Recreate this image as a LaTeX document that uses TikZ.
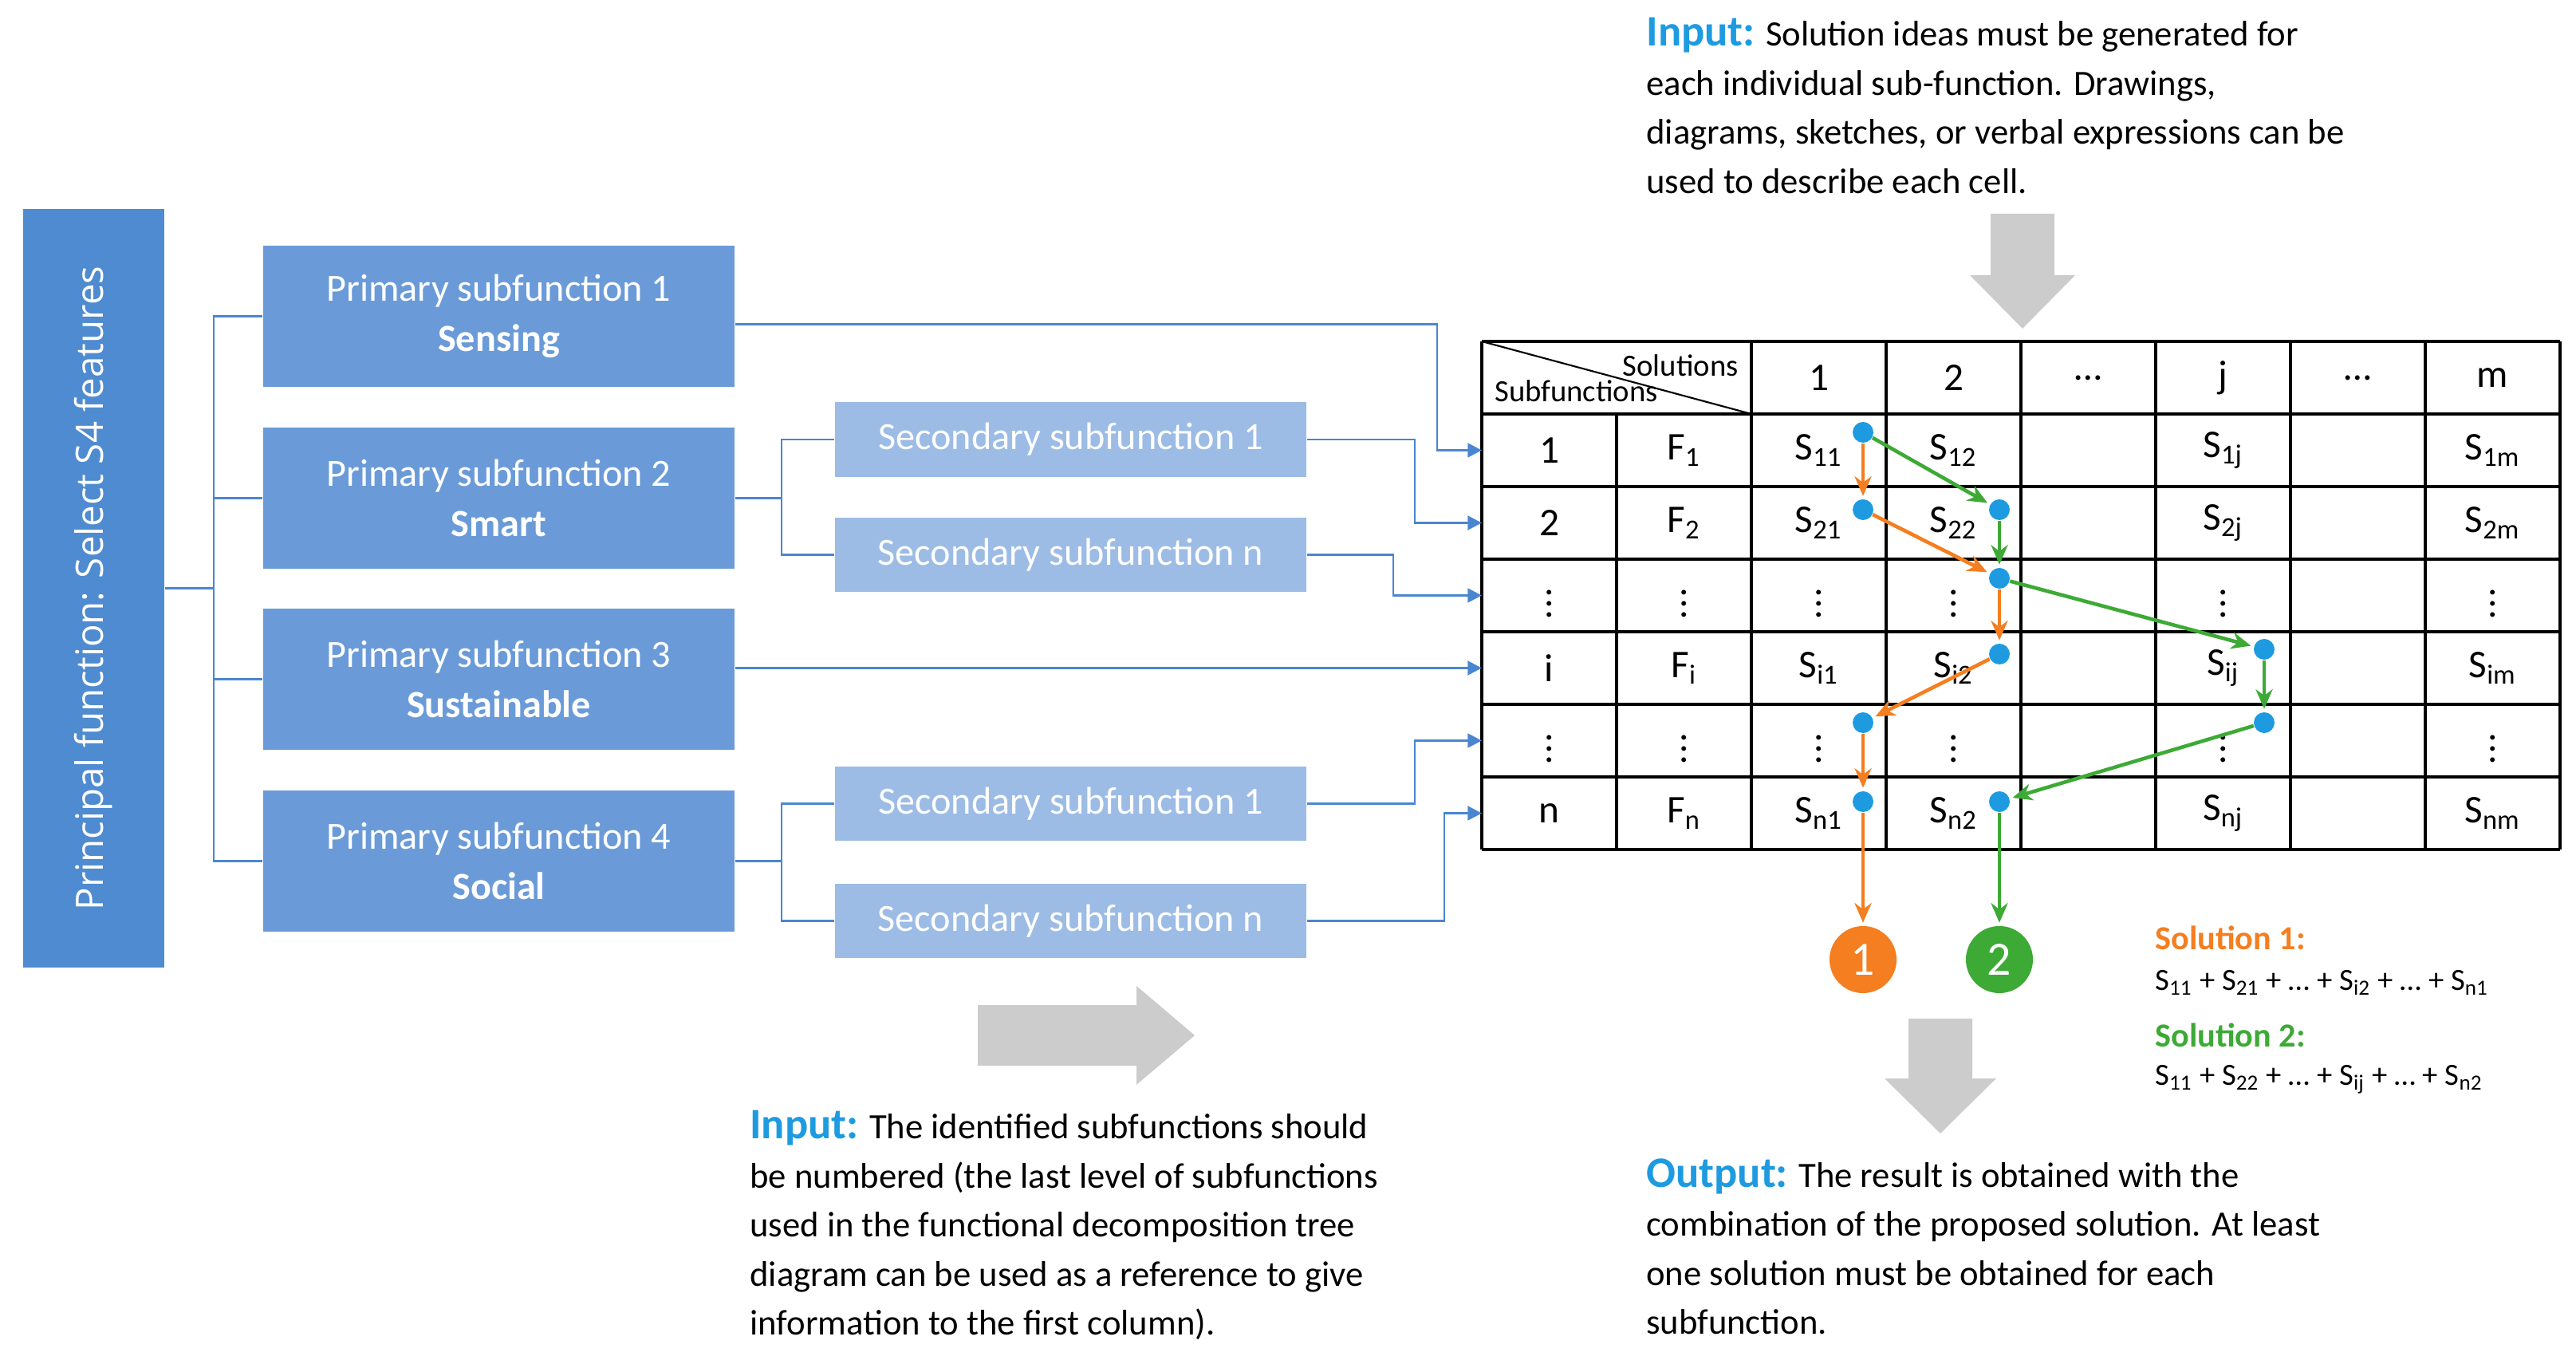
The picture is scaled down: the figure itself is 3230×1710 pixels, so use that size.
\documentclass[tikz,border=0pt]{standalone}
\usepackage{fontspec}
\setmainfont{Carlito}
\newfontfamily\opensans{Open Sans}
\usetikzlibrary{arrows.meta, positioning, calc}
\definecolor{barblue}{HTML}{4F8BD0}
\definecolor{primblue}{HTML}{6A9BD8}
\definecolor{secblue}{HTML}{9CBCE5}
\definecolor{linkblue}{HTML}{4A86D0}
\definecolor{dotblue}{HTML}{1E9BE0}
\definecolor{solorange}{HTML}{F47E20}
\definecolor{solgreen}{HTML}{3DAA35}
\tikzset{
	primbox/.style={fill=primblue, text=white, minimum width=5.91cm, minimum height=1.76cm, align=center, font=\fontsize{13.7}{18}\selectfont},
	secbox/.style={fill=secblue, text=white, minimum width=5.91cm, minimum height=0.93cm, font=\fontsize{13.7}{15}\selectfont},
	link/.style={linkblue, line width=0.8pt},
	linkarrow/.style={link, -{Triangle[length=5pt,width=5pt]}},
	cell/.style={font=\fontsize{14}{16}\selectfont, inner sep=0pt},
	dot/.style={circle, fill=dotblue, inner sep=0pt, minimum size=0.26cm},
	orangearrow/.style={solorange, line width=1.3pt, -{Stealth[length=7pt,width=6pt]}, shorten >=1pt},
	greenarrow/.style={solgreen, line width=1.3pt, -{Stealth[length=7pt,width=6pt]}, shorten >=1pt},
	bigarrow/.style={fill=gray!40, draw=none},
	note/.style={anchor=north west, align=left, font=\fontsize{12.7}{17.5}\selectfont}
}
\begin{document}
\begin{tikzpicture}[x=0.01cm, y=-0.01cm]
	\useasboundingbox (0,0) rectangle (3230,1710);

	% principal function and tree
	\node[fill=barblue, minimum width=1.77cm, minimum height=9.51cm, inner sep=0pt] (main) at (117.5,737.5) {};
	\node[rotate=90, text=white, font=\opensans\fontsize{13.5}{16}\selectfont] at (main) {Principal function: Select S4 features};

	\node[primbox] (p1) at (625.5,396.5) {Primary subfunction 1\\\textbf{Sensing}};
	\node[primbox] (p2) at (625.5,624.5) {Primary subfunction 2\\\textbf{Smart}};
	\node[primbox] (p3) at (625.5,851.5) {Primary subfunction 3\\\textbf{Sustainable}};
	\node[primbox] (p4) at (625.5,1079.5) {Primary subfunction 4\\\textbf{Social}};

	\node[secbox] (s21) at (1342.5,551) {Secondary subfunction 1};
	\node[secbox] (s2n) at (1342.5,695.5) {Secondary subfunction n};
	\node[secbox] (s41) at (1342.5,1007.5) {Secondary subfunction 1};
	\node[secbox] (s4n) at (1342.5,1154.5) {Secondary subfunction n};

	\draw[link] (main.east) -- (268,737.5);
	\draw[link] (p1.west) -| (268,737.5) |- (p4.west);
	\draw[link] (p2.west) -- (268,624.5);
	\draw[link] (p3.west) -- (268,851.5);
	\draw[link] (p2.east) -- (980,624.5);
	\draw[link] (s21.west) -| (980,624.5) |- (s2n.west);
	\draw[link] (p4.east) -- (980,1079.5);
	\draw[link] (s41.west) -| (980,1079.5) |- (s4n.west);

	% morphological table
	\foreach \r in {0,...,7}
		\draw[line width=1pt] (1858,{428+91*\r}) -- (3210,{428+91*\r});
	\foreach \c in {0,2,3,4,5,6,7,8}
		\draw[line width=1pt] ({1858+169*\c},428) -- ({1858+169*\c},1065);
	\draw[line width=1pt] (2027,519) -- (2027,1065);
	\draw[line width=0.6pt] (1858,428) -- (2196,519);
	\node[anchor=north east, font=\fontsize{11}{12}\selectfont] at (2192,432) {Solutions};
	\node[anchor=south west, font=\fontsize{11}{12}\selectfont] at (1862,516) {Subfunctions};

	\foreach \t [count=\c from 2] in {1,2,\dots,j,\dots,m}
		\node[cell] (h\c) at ({1858+169*\c+84.5},473.5) {\t};

	\foreach \a/\b [count=\r] in {1/F\textsubscript{1}, 2/F\textsubscript{2}, \vdots/\vdots, i/F\textsubscript{i}, \vdots/\vdots, n/F\textsubscript{n}}{
		\node[cell] (r\r c0) at (1942.5,{519+91*(\r-1)+45.5}) {\a};
		\node[cell] (r\r c1) at (2111.5,{519+91*(\r-1)+45.5}) {\b};
	}
	\foreach \r/\i in {1/1,2/2,4/i,6/n}{
		\node[cell] at (2280.5,{519+91*(\r-1)+45.5}) {S\textsubscript{\i1}};
		\node[cell] at (2449.5,{519+91*(\r-1)+45.5}) {S\textsubscript{\i2}};
		\node[cell] at (2787.5,{519+91*(\r-1)+45.5}) {S\textsubscript{\i j}};
		\node[cell] at (3125.5,{519+91*(\r-1)+45.5}) {S\textsubscript{\i m}};
	}
	\foreach \r in {3,5}
		\foreach \x in {2280.5,2449.5,2787.5,3125.5}
			\node[cell] at (\x,{519+91*(\r-1)+45.5}) {\vdots};

	% links into the table
	\draw[linkarrow] ($(p1.east)+(0,10)$) -- (1802,406.5) |- (1858,564.5);
	\draw[linkarrow] (s21.east) -- (1774,551) |- (1858,655.5);
	\draw[linkarrow] (s2n.east) -- (1747,695.5) |- (1858,746.5);
	\draw[linkarrow] ($(p3.east)+(0,-14)$) -- (1858,837.5);
	\draw[linkarrow] (s41.east) -- (1774,1007.5) |- (1858,928.5);
	\draw[linkarrow] (s4n.east) -- (1811,1154.5) |- (1858,1019.5);

	% solution paths
	\node[dot] (d11) at (2336,542) {};
	\node[dot] (d21) at (2336,639) {};
	\node[dot] (d22) at (2507,639) {};
	\node[dot] (d32) at (2507,725) {};
	\node[dot] (di2) at (2507,820) {};
	\node[dot] (dij) at (2839,814) {};
	\node[dot] (d51) at (2336,906) {};
	\node[dot] (d5j) at (2839,906) {};
	\node[dot] (dn1) at (2336,1005) {};
	\node[dot] (dn2) at (2507,1005) {};

	\node[circle, fill=solorange, text=white, minimum size=0.84cm, font=\fontsize{17}{18}\selectfont] (sol1) at (2336,1203) {1};
	\node[circle, fill=solgreen, text=white, minimum size=0.84cm, font=\fontsize{17}{18}\selectfont] (sol2) at (2507,1203) {2};

	\draw[orangearrow] (d11) -- (d21);
	\draw[orangearrow] (d21) -- (d32);
	\draw[orangearrow] (d32) -- (di2);
	\draw[orangearrow] (di2) -- (d51);
	\draw[orangearrow] (d51) -- (dn1);
	\draw[orangearrow] (dn1) -- (sol1);
	\draw[greenarrow] (d11) -- (d22);
	\draw[greenarrow] (d22) -- (d32);
	\draw[greenarrow] (d32) -- (dij);
	\draw[greenarrow] (dij) -- (d5j);
	\draw[greenarrow] (d5j) -- (dn2);
	\draw[greenarrow] (dn2) -- (sol2);

	\node[anchor=west, text=solorange, font=\bfseries\fontsize{12}{14}\selectfont] (lab1) at (2690,1176) {Solution 1:};
	\node[anchor=west, font=\fontsize{11}{13}\selectfont] (sum1) at (2690,1232) {S\textsubscript{11} + S\textsubscript{21} + \dots{} + S\textsubscript{i2} + \dots{} + S\textsubscript{n1}};
	\node[anchor=west, text=solgreen, font=\bfseries\fontsize{12}{14}\selectfont] (lab2) at (2690,1298) {Solution 2:};
	\node[anchor=west, font=\fontsize{11}{13}\selectfont] (sum2) at (2690,1353) {S\textsubscript{11} + S\textsubscript{22} + \dots{} + S\textsubscript{ij} + \dots{} + S\textsubscript{n2}};

	% grey block arrows
	\fill[bigarrow] (2496,268) -- (2576,268) -- (2576,345) -- (2602,345) -- (2536,412) -- (2470,345) -- (2496,345) -- cycle;
	\fill[bigarrow] (1226,1260) -- (1425,1260) -- (1425,1236) -- (1498,1298) -- (1425,1360) -- (1425,1336) -- (1226,1336) -- cycle;
	\fill[bigarrow] (2393,1277) -- (2473,1277) -- (2473,1352) -- (2503,1352) -- (2433,1421) -- (2363,1352) -- (2393,1352) -- cycle;

	% notes
	\node[note] (intop) at (2052,10) {{\color{dotblue}\bfseries\fontsize{15.5}{17.5}\selectfont Input:} Solution ideas must be generated for\\each individual sub-function. Drawings,\\diagrams, sketches, or verbal expressions can be\\used to describe each cell.};
	\node[note] (inbottom) at (928,1380) {{\color{dotblue}\bfseries\fontsize{15.5}{17.5}\selectfont Input:} The identified subfunctions should\\be numbered (the last level of subfunctions\\used in the functional decomposition tree\\diagram can be used as a reference to give\\information to the first column).};
	\node[note] (outbottom) at (2052,1440) {{\color{dotblue}\bfseries\fontsize{15.5}{17.5}\selectfont Output:} The result is obtained with the\\combination of the proposed solution. At least\\one solution must be obtained for each\\subfunction.};
\end{tikzpicture}
\end{document}
